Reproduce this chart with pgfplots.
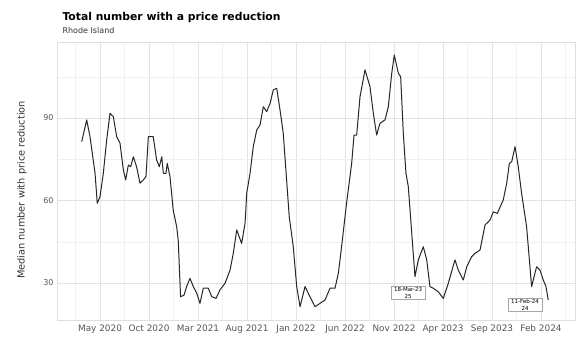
\documentclass[border=0pt]{standalone}
\usepackage{fontspec}
\setmainfont{DejaVu Sans}
\usepackage{pgfplots}
\pgfplotsset{compat=1.18}
\definecolor{tickgray}{HTML}{555555}
\definecolor{gridmaj}{HTML}{E3E3E3}
\definecolor{gridmin}{HTML}{F0F0F0}
\begin{document}
\begin{tikzpicture}[x=1pt,y=1pt]
\useasboundingbox (0,0) rectangle (584,342);
\begin{axis}[
  at={(57pt,22pt)}, anchor=south west,
  scale only axis, width=518pt, height=278pt,
  xmin=-0.39, xmax=52.47, ymin=16.55, ymax=117.64,
  xtick={4,9,14,19,24,29,34,39,44,49},
  xticklabels={May 2020,Oct 2020,Mar 2021,Aug 2021,Jan 2022,Jun 2022,Nov 2022,Apr 2023,Sep 2023,Feb 2024},
  minor xtick={1.5,6.5,11.5,16.5,21.5,26.5,31.5,36.5,41.5,46.5,51.5},
  ytick={30,60,90}, minor ytick={45,75,105},
  grid=both,
  major grid style={gridmaj, line width=0.5pt},
  minor grid style={gridmin, line width=0.4pt},
  major tick length=0pt, minor tick length=0pt,
  axis line style={gray!25, line width=0.5pt},
  tick label style={font=\fontsize{8}{9}\selectfont, text=tickgray},
  xticklabel style={font=\fontsize{8.9}{10}\selectfont, yshift=-1.5pt},
  /pgf/number format/assume math mode=true,
  clip=false,
]
\addplot[black!85, line width=1pt, line join=round] coordinates {
(2.13,81.4) (2.64,89.3) (2.98,83.2) (3.49,70.0) (3.72,59.0) (4.00,61.4) (4.34,70.0) (4.68,82.0)
(5.02,91.7) (5.36,90.5) (5.70,83.2) (6.04,80.8) (6.38,71.1) (6.62,67.5) (6.89,72.9) (7.13,72.3)
(7.40,75.9) (7.73,72.3) (8.08,66.3) (8.42,67.5) (8.69,68.7) (8.93,83.2) (9.43,83.2) (9.78,74.7)
(10.05,72.3) (10.30,75.9) (10.46,69.9) (10.73,69.9) (10.86,73.5) (11.14,68.7) (11.47,56.5)
(11.82,50.5) (11.98,45.6) (12.22,25.0) (12.57,25.6) (12.84,28.7) (13.18,31.7) (13.52,28.7)
(13.87,26.3) (14.20,22.6) (14.54,28.1) (15.05,28.1) (15.40,25.0) (15.84,24.4) (16.24,27.5)
(16.76,29.9) (17.27,34.7) (17.60,40.8) (17.95,49.3) (18.45,44.4) (18.80,51.7) (18.97,62.6)
(19.31,69.9) (19.64,79.6) (19.99,85.6) (20.33,87.5) (20.66,94.1) (21.01,92.3) (21.35,95.3)
(21.68,100.2) (22.03,100.8) (22.37,92.9) (22.70,84.4) (23.04,67.5) (23.31,54.1) (23.72,43.2)
(24.07,28.7) (24.41,21.4) (24.92,28.7) (25.43,25.0) (25.94,21.4) (26.45,22.6) (26.96,23.8)
(27.47,28.1) (27.98,28.1) (28.32,33.5) (28.65,43.2) (29.16,59.0) (29.68,73.5) (29.92,83.8)
(30.19,83.8) (30.53,97.7) (31.04,107.5) (31.55,101.4) (31.89,91.7) (32.23,83.8) (32.57,88.1)
(33.08,89.3) (33.42,94.1) (33.77,106.3) (34.03,112.9) (34.44,106.3) (34.68,105.0) (34.95,84.4)
(35.22,69.9) (35.46,65.0) (36.14,32.3) (36.48,38.4) (36.99,43.2) (37.34,38.4) (37.67,28.7)
(38.01,28.1) (38.52,26.8) (39.03,24.4) (39.54,29.9) (40.22,38.4) (40.56,34.7) (41.07,31.1)
(41.42,35.9) (41.93,39.6) (42.27,40.8) (42.78,42.0) (43.29,51.1) (43.80,52.9) (44.13,55.9)
(44.54,55.3) (45.15,60.2) (45.50,66.3) (45.77,73.5) (46.01,74.1) (46.35,79.6) (46.68,72.3)
(47.02,62.6) (47.53,50.5) (48.04,28.7) (48.55,35.9) (48.90,34.7) (49.23,31.1) (49.51,28.7)
(49.74,23.8)
};
\node[draw=gray!70, fill=white, line width=0.4pt, inner xsep=3pt, inner ysep=1.2pt, align=center,
  font=\fontsize{5.5}{6.5}\selectfont] at (axis cs:35.43,26.4) {18-Mar-23\\25};
\node[draw=gray!70, fill=white, line width=0.4pt, inner xsep=3pt, inner ysep=1.2pt, align=center,
  font=\fontsize{5.5}{6.5}\selectfont] at (axis cs:47.37,22.0) {11-Feb-24\\24};
\end{axis}
\node[anchor=base west, font=\bfseries\fontsize{10.8}{12}\selectfont] at (59,321) {Total number with a price reduction};
\node[anchor=base west, font=\fontsize{8}{9}\selectfont, text=black!80] at (59,308) {Rhode Island};
\node[rotate=90, font=\fontsize{9.8}{11}\selectfont, text=black!80] at (22,152) {Median number with price reduction};
\end{tikzpicture}
\end{document}
